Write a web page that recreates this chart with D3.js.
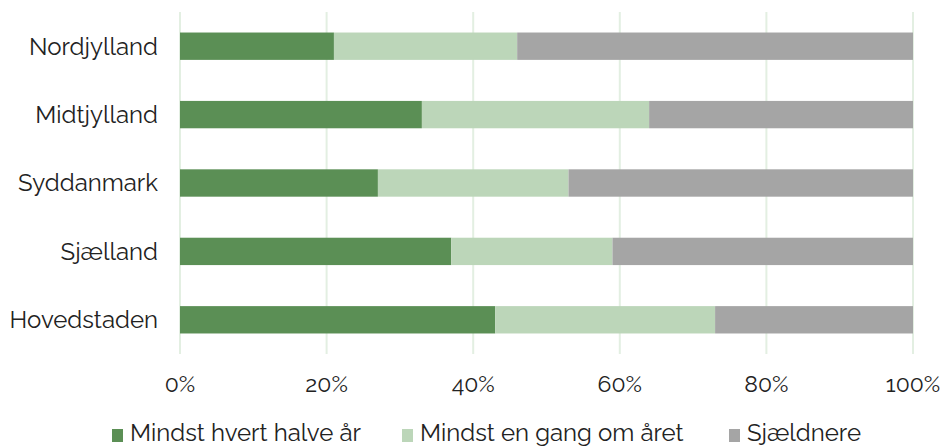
<!DOCTYPE html>
<html lang="da">
<head>
<meta charset="UTF-8">
<title>Regioner</title>
<script src="https://d3js.org/d3.v7.min.js"></script>
<style>
  body { margin: 0; background: #fff; }
  svg text { font-family: Raleway, Lato, "Open Sans", sans-serif; fill: #222; }
</style>
</head>
<body>
<svg id="chart" width="944" height="447"></svg>
<script>
// regions, top to bottom
const regions = ["Nordjylland", "Midtjylland", "Syddanmark", "Sjælland", "Hovedstaden"];
// series shares in %
const halvaar = [21, 33, 27, 37, 43];
const aarligt = [25, 31, 26, 22, 30];
const sjaeldnere = [54, 36, 47, 41, 27];
const seriesNames = ["Mindst hvert halve år", "Mindst en gang om året", "Sjældnere"];
const colors = ["#5b8f55", "#bcd6b9", "#a5a5a5"];
const ticks = [0, 20, 40, 60, 80, 100];

const svg = d3.select("#chart");

const x = d3.scaleLinear().domain([0, 100]).range([180, 913]);
const y = d3.scaleBand().domain(regions).range([12, 354]).paddingInner(0.6).paddingOuter(0.3);

// gridlines
svg.append("g")
  .selectAll("line")
  .data(ticks)
  .join("line")
  .attr("x1", d => x(d)).attr("x2", d => x(d))
  .attr("y1", 12).attr("y2", 354)
  .attr("stroke", "#e3efe2")
  .attr("stroke-width", 2);

// stacked bars
const rows = regions.map((r, i) => ({ region: r, a: halvaar[i], b: aarligt[i], c: sjaeldnere[i] }));
const stack = d3.stack().keys(["a", "b", "c"])(rows);

svg.append("g")
  .selectAll("g")
  .data(stack)
  .join("g")
  .attr("fill", (d, i) => colors[i])
  .selectAll("rect")
  .data(d => d)
  .join("rect")
  .attr("x", d => x(d[0]))
  .attr("width", d => x(d[1]) - x(d[0]))
  .attr("y", d => y(d.data.region))
  .attr("height", y.bandwidth());

// y labels
svg.append("g")
  .selectAll("text")
  .data(regions)
  .join("text")
  .attr("x", 158)
  .attr("y", d => y(d) + y.bandwidth() / 2)
  .attr("dy", "0.35em")
  .attr("text-anchor", "end")
  .attr("font-size", 24)
  .text(d => d);

// x tick labels
svg.append("g")
  .selectAll("text")
  .data(ticks)
  .join("text")
  .attr("x", d => x(d))
  .attr("y", 384)
  .attr("dy", "0.35em")
  .attr("text-anchor", "middle")
  .attr("font-size", 23)
  .text(d => d + "%");

// legend
const legendX = [112, 402, 729];
const legend = svg.append("g")
  .selectAll("g")
  .data(seriesNames)
  .join("g")
  .attr("transform", (d, i) => `translate(${legendX[i]},0)`);

legend.append("rect")
  .attr("x", 0).attr("y", 429)
  .attr("width", 11).attr("height", 13)
  .attr("fill", (d, i) => colors[i]);

legend.append("text")
  .attr("x", 18)
  .attr("y", 441)
  .attr("font-size", 24)
  .text(d => d);
</script>
</body>
</html>
